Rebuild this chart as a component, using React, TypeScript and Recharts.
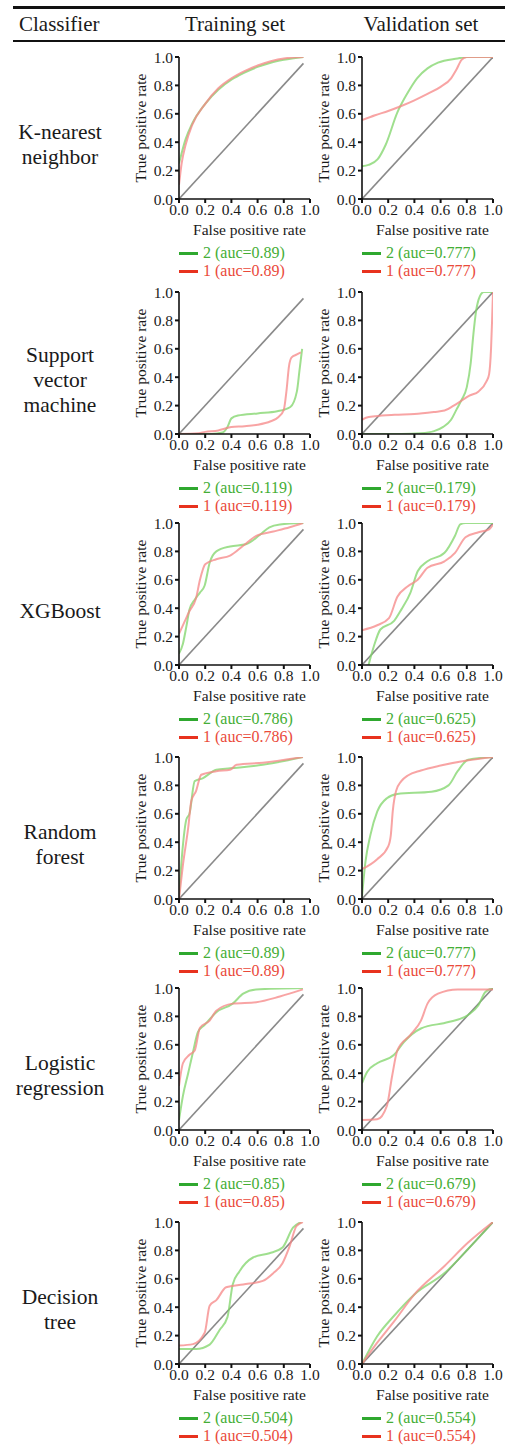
import React from 'react';
import { LineChart, Line, XAxis, YAxis } from 'recharts';

type Pair = [number, number];

const classifiers = [
  ['K-nearest', 'neighbor'],
  ['Support', 'vector', 'machine'],
  ['XGBoost'],
  ['Random', 'forest'],
  ['Logistic', 'regression'],
  ['Decision', 'tree'],
];

const trainAuc = ['0.89', '0.119', '0.786', '0.89', '0.85', '0.504'];
const validAuc = ['0.777', '0.179', '0.625', '0.777', '0.679', '0.554'];

const axisTicks = [0, 0.2, 0.4, 0.6, 0.8, 1.0];

// reference diagonals
const trainDiag: Pair[] = [[0, 0], [0.95, 0.955]];
const validDiag: Pair[] = [[0, 0], [1, 1]];

// K-nearest neighbor
const knnTrain2: Pair[] = [[0, 0.25], [0.05, 0.42], [0.1, 0.53], [0.2, 0.67], [0.3, 0.77], [0.4, 0.84], [0.5, 0.89], [0.6, 0.93], [0.7, 0.96], [0.8, 0.98], [0.95, 1.0]];
const knnTrain1: Pair[] = [[0, 0.1], [0.02, 0.25], [0.05, 0.38], [0.1, 0.52], [0.2, 0.67], [0.3, 0.78], [0.4, 0.85], [0.5, 0.9], [0.6, 0.94], [0.7, 0.97], [0.8, 0.99], [0.95, 1.0]];
const knnValid2: Pair[] = [[0, 0.23], [0.05, 0.24], [0.12, 0.28], [0.18, 0.38], [0.27, 0.61], [0.35, 0.75], [0.42, 0.85], [0.5, 0.92], [0.58, 0.96], [0.73, 0.99], [0.8, 1.0], [1, 1]];
const knnValid1: Pair[] = [[0, 0.555], [0.1, 0.59], [0.2, 0.62], [0.3, 0.655], [0.4, 0.695], [0.5, 0.74], [0.6, 0.79], [0.68, 0.85], [0.72, 0.91], [0.76, 0.98], [0.8, 1.0], [1, 1]];

// Support vector machine
const svmTrain2: Pair[] = [[0, 0], [0.25, 0], [0.33, 0.01], [0.37, 0.05], [0.4, 0.11], [0.45, 0.13], [0.6, 0.145], [0.75, 0.16], [0.85, 0.19], [0.9, 0.3], [0.92, 0.45], [0.94, 0.6]];
const svmTrain1: Pair[] = [[0, 0], [0.15, 0.005], [0.2, 0.015], [0.3, 0.025], [0.36, 0.04], [0.4, 0.05], [0.5, 0.055], [0.6, 0.065], [0.7, 0.09], [0.76, 0.12], [0.8, 0.17], [0.82, 0.3], [0.84, 0.48], [0.86, 0.54], [0.9, 0.56], [0.93, 0.575]];
const svmValid2: Pair[] = [[0, 0], [0.3, 0], [0.45, 0.005], [0.55, 0.02], [0.62, 0.05], [0.68, 0.1], [0.72, 0.17], [0.76, 0.24], [0.8, 0.33], [0.83, 0.5], [0.85, 0.7], [0.87, 0.86], [0.9, 0.97], [0.93, 1.0], [1, 1]];
const svmValid1: Pair[] = [[0, 0.1], [0.03, 0.115], [0.1, 0.125], [0.25, 0.135], [0.4, 0.14], [0.55, 0.155], [0.63, 0.165], [0.7, 0.2], [0.76, 0.235], [0.82, 0.27], [0.89, 0.3], [0.95, 0.37], [0.97, 0.42], [0.985, 0.6], [0.993, 0.8], [1, 1]];

// XGBoost
const xgbTrain2: Pair[] = [[0, 0.08], [0.03, 0.15], [0.056, 0.27], [0.08, 0.39], [0.12, 0.46], [0.16, 0.51], [0.196, 0.56], [0.234, 0.72], [0.285, 0.8], [0.39, 0.835], [0.51, 0.85], [0.616, 0.915], [0.69, 0.97], [0.77, 0.99], [0.95, 1.0]];
const xgbTrain1: Pair[] = [[0, 0.22], [0.04, 0.3], [0.08, 0.38], [0.13, 0.47], [0.16, 0.6], [0.2, 0.71], [0.285, 0.745], [0.39, 0.77], [0.49, 0.84], [0.59, 0.91], [0.72, 0.94], [0.845, 0.97], [0.946, 1.0]];
const xgbValid2: Pair[] = [[0.05, 0], [0.09, 0.13], [0.14, 0.25], [0.245, 0.31], [0.3, 0.39], [0.37, 0.51], [0.425, 0.66], [0.5, 0.73], [0.63, 0.79], [0.71, 0.91], [0.75, 0.99], [0.79, 1.0], [1, 1]];
const xgbValid1: Pair[] = [[0, 0.245], [0.116, 0.28], [0.206, 0.33], [0.27, 0.48], [0.35, 0.555], [0.425, 0.6], [0.5, 0.685], [0.63, 0.73], [0.71, 0.79], [0.79, 0.9], [0.89, 0.935], [0.97, 0.955], [1, 0.99]];

// Random forest
const rfTrain2: Pair[] = [[0, 0.02], [0.03, 0.38], [0.056, 0.56], [0.08, 0.6], [0.12, 0.83], [0.18, 0.85], [0.285, 0.91], [0.39, 0.92], [0.64, 0.945], [0.946, 1.0]];
const rfTrain1: Pair[] = [[0, 0], [0.03, 0.24], [0.07, 0.5], [0.094, 0.69], [0.13, 0.76], [0.17, 0.875], [0.285, 0.9], [0.39, 0.91], [0.44, 0.945], [0.64, 0.96], [0.946, 1.0]];
const rfValid2: Pair[] = [[0, 0.02], [0.026, 0.26], [0.064, 0.45], [0.116, 0.615], [0.19, 0.71], [0.27, 0.74], [0.53, 0.755], [0.66, 0.8], [0.73, 0.9], [0.81, 0.98], [1, 1]];
const rfValid1: Pair[] = [[0, 0.21], [0.116, 0.28], [0.2, 0.37], [0.22, 0.45], [0.235, 0.62], [0.26, 0.76], [0.3, 0.83], [0.35, 0.87], [0.45, 0.905], [0.6, 0.94], [0.8, 0.975], [1, 1]];

// Logistic regression
const lrTrain2: Pair[] = [[0, 0.07], [0.03, 0.24], [0.07, 0.4], [0.107, 0.55], [0.145, 0.69], [0.196, 0.74], [0.285, 0.83], [0.41, 0.89], [0.49, 0.96], [0.59, 0.99], [0.946, 1.0]];
const lrTrain1: Pair[] = [[0, 0.31], [0.03, 0.47], [0.08, 0.53], [0.12, 0.56], [0.16, 0.72], [0.234, 0.77], [0.285, 0.84], [0.41, 0.89], [0.59, 0.9], [0.77, 0.94], [0.946, 0.99]];
const lrValid2: Pair[] = [[0, 0.33], [0.04, 0.41], [0.116, 0.47], [0.245, 0.53], [0.32, 0.62], [0.45, 0.715], [0.66, 0.76], [0.81, 0.81], [0.89, 0.88], [0.94, 0.97], [1, 1]];
const lrValid1: Pair[] = [[0, 0.07], [0.116, 0.075], [0.19, 0.17], [0.23, 0.38], [0.27, 0.56], [0.37, 0.67], [0.45, 0.77], [0.5, 0.89], [0.58, 0.96], [0.73, 0.99], [1, 0.99]];

// Decision tree
const dtTrain2: Pair[] = [[0, 0.106], [0.13, 0.106], [0.234, 0.137], [0.31, 0.24], [0.37, 0.33], [0.41, 0.56], [0.46, 0.65], [0.565, 0.75], [0.69, 0.78], [0.79, 0.82], [0.87, 0.96], [0.934, 1.0]];
const dtTrain1: Pair[] = [[0, 0.13], [0.107, 0.14], [0.196, 0.22], [0.234, 0.41], [0.285, 0.45], [0.36, 0.54], [0.49, 0.56], [0.64, 0.585], [0.72, 0.64], [0.79, 0.71], [0.845, 0.83], [0.896, 0.97], [0.946, 1.0]];
const dtValid2: Pair[] = [[0, 0], [0.116, 0.195], [0.245, 0.34], [0.4, 0.49], [0.63, 0.64], [0.81, 0.81], [1, 1]];
const dtValid1: Pair[] = [[0, 0], [0.116, 0.15], [0.245, 0.3], [0.4, 0.49], [0.63, 0.69], [0.81, 0.855], [1, 1]];

const trainCurves = [
  [knnTrain2, knnTrain1],
  [svmTrain2, svmTrain1],
  [xgbTrain2, xgbTrain1],
  [rfTrain2, rfTrain1],
  [lrTrain2, lrTrain1],
  [dtTrain2, dtTrain1],
];
const validCurves = [
  [knnValid2, knnValid1],
  [svmValid2, svmValid1],
  [xgbValid2, xgbValid1],
  [rfValid2, rfValid1],
  [lrValid2, lrValid1],
  [dtValid2, dtValid1],
];

const rowTops = [57, 292, 523, 757, 988, 1222];

const FONT = '"Liberation Serif", "DejaVu Serif", serif';
const GREEN_LINE = '#7fd468';
const RED_LINE = '#f58585';
const GREEN_KEY = '#2fa82f';
const RED_KEY = '#e8321e';
const GREEN_TEXT = '#45ae36';
const RED_TEXT = '#ea4a3b';

const CHART_W = 190;
const TOP_PAD = 12;
const PLOT_H = 142;
const XAXIS_H = 26;
const CHART_H = TOP_PAD + PLOT_H + XAXIS_H;
const AXIS_W = 49;

const toPts = (p: Pair[]) => p.map(([x, y]) => ({ x, y }));

const tickStyle = { fontSize: 15.5, fill: '#1a1a1a', fontFamily: FONT };

const RocPanel = ({
  left,
  top,
  green,
  red,
  diag,
  auc,
}: {
  left: number;
  top: number;
  green: Pair[];
  red: Pair[];
  diag: Pair[];
  auc: string;
}) => {
  const plotLeft = left + AXIS_W;
  const plotW = CHART_W - AXIS_W - 10;
  return (
    <>
      <div style={{ position: 'absolute', left, top: top - TOP_PAD }}>
        <LineChart width={CHART_W} height={CHART_H} margin={{ top: TOP_PAD, right: 10, left: 0, bottom: 0 }}>
          <XAxis
            type="number"
            dataKey="x"
            domain={[0, 1]}
            ticks={axisTicks}
            tickFormatter={(v: number) => v.toFixed(1)}
            interval={0}
            height={XAXIS_H}
            tick={tickStyle}
            tickSize={4}
            tickMargin={1}
            axisLine={{ stroke: '#111', strokeWidth: 1.6 }}
            tickLine={{ stroke: '#111', strokeWidth: 2 }}
            allowDataOverflow
          />
          <YAxis
            type="number"
            domain={[0, 1]}
            ticks={axisTicks}
            tickFormatter={(v: number) => v.toFixed(1)}
            interval={0}
            width={AXIS_W}
            tick={tickStyle}
            tickSize={4}
            tickMargin={2}
            axisLine={{ stroke: '#111', strokeWidth: 1.6 }}
            tickLine={{ stroke: '#111', strokeWidth: 2 }}
            allowDataOverflow
          />
          <Line data={toPts(diag)} dataKey="y" type="linear" stroke="#8a8a8a" strokeWidth={1.6} dot={false} isAnimationActive={false} />
          <Line data={toPts(green)} dataKey="y" type="monotone" stroke={GREEN_LINE} strokeOpacity={0.75} strokeWidth={2} dot={false} isAnimationActive={false} />
          <Line data={toPts(red)} dataKey="y" type="monotone" stroke={RED_LINE} strokeOpacity={0.75} strokeWidth={2} dot={false} isAnimationActive={false} />
        </LineChart>
      </div>
      <div
        style={{
          position: 'absolute',
          left: plotLeft - 38 - 80,
          top: top + 71 - 10,
          width: 160,
          height: 20,
          lineHeight: '20px',
          textAlign: 'center',
          fontSize: 15.5,
          color: '#1a1a1a',
          transform: 'rotate(-90deg)',
          whiteSpace: 'nowrap',
        }}
      >
        True positive rate
      </div>
      <div
        style={{
          position: 'absolute',
          left: plotLeft + plotW / 2 + 5 - 80,
          top: top + 173 - 10,
          width: 160,
          height: 20,
          lineHeight: '20px',
          textAlign: 'center',
          fontSize: 15.5,
          color: '#1a1a1a',
          whiteSpace: 'nowrap',
        }}
      >
        False positive rate
      </div>
      {[
        { key: GREEN_KEY, text: GREEN_TEXT, label: `2 (auc=${auc})`, dy: 196 },
        { key: RED_KEY, text: RED_TEXT, label: `1 (auc=${auc})`, dy: 214 },
      ].map((l) => (
        <div
          key={l.label + l.dy}
          style={{
            position: 'absolute',
            left: plotLeft,
            top: top + l.dy - 10,
            height: 20,
            lineHeight: '20px',
            display: 'flex',
            alignItems: 'center',
            fontSize: 16,
            color: l.text,
            whiteSpace: 'nowrap',
          }}
        >
          <span style={{ display: 'inline-block', width: 19, height: 3, background: l.key, marginRight: 5 }} />
          {l.label}
        </div>
      ))}
    </>
  );
};

export default function App() {
  return (
    <div
      style={{
        position: 'absolute',
        left: 0,
        top: 0,
        width: 508,
        height: 1446,
        background: '#fff',
        fontFamily: FONT,
        color: '#1a1a1a',
        overflow: 'hidden',
      }}
    >
      <div style={{ position: 'absolute', left: 13, top: 6, width: 492, height: 2.5, background: '#111' }} />
      <div style={{ position: 'absolute', left: 13, top: 40, width: 492, height: 2, background: '#111' }} />
      <div style={{ position: 'absolute', left: 19, top: 11, fontSize: 21, lineHeight: '26px' }}>Classifier</div>
      <div style={{ position: 'absolute', left: 135, top: 11, width: 200, textAlign: 'center', fontSize: 21, lineHeight: '26px' }}>Training set</div>
      <div style={{ position: 'absolute', left: 321, top: 11, width: 200, textAlign: 'center', fontSize: 21, lineHeight: '26px' }}>Validation set</div>

      {rowTops.map((t, i) => (
        <React.Fragment key={i}>
          <div
            style={{
              position: 'absolute',
              left: 0,
              width: 120,
              top: t + 88 - (classifiers[i].length * 25) / 2,
              textAlign: 'center',
              fontSize: 21.5,
              lineHeight: '25px',
            }}
          >
            {classifiers[i].map((w) => (
              <div key={w}>{w}</div>
            ))}
          </div>
          <RocPanel left={130} top={t} green={trainCurves[i][0]} red={trainCurves[i][1]} diag={trainDiag} auc={trainAuc[i]} />
          <RocPanel left={313} top={t} green={validCurves[i][0]} red={validCurves[i][1]} diag={validDiag} auc={validAuc[i]} />
        </React.Fragment>
      ))}
    </div>
  );
}
